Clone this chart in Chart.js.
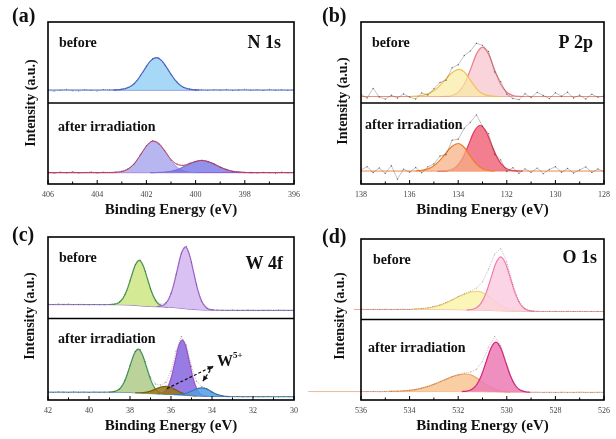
<!DOCTYPE html>
<html><head><meta charset="utf-8">
<script src="https://cdn.jsdelivr.net/npm/chart.js@4.4.0/dist/chart.umd.min.js"></script>
<style>
html,body{margin:0;padding:0;background:#fff;width:616px;height:439px;overflow:hidden;position:relative;}
canvas{position:absolute;}
</style></head><body>
<canvas id="ca" width="308" height="219" style="left:0;top:0;width:308px;height:219px"></canvas>
<canvas id="cb" width="308" height="219" style="left:308px;top:0;width:308px;height:219px"></canvas>
<canvas id="cc" width="308" height="220" style="left:0;top:219px;width:308px;height:220px"></canvas>
<canvas id="cd" width="308" height="220" style="left:308px;top:219px;width:308px;height:220px"></canvas>
<script>
// ---------------- tick labels ----------------
const N1S_TICKS = [406,404,402,400,398,396];
const P2P_TICKS = [138,136,134,132,130,128];
const W4F_TICKS = [42,40,38,36,34,32,30];
const O1S_TICKS = [536,534,532,530,528,526];

// ---------------- N 1s ----------------
const N1S_GRID = [406,405.75,405.5,405.25,405,404.75,404.5,404.25,404,403.75,403.5,403.25,403,402.75,402.5,402.25,402,401.75,401.5,401.25,401,400.75,400.5,400.25,400,399.75,399.5,399.25,399,398.75,398.5,398.25,398,397.75,397.5,397.25,397,396.75,396.5,396.25,396];
const N1S_BEFORE_RAW = [15.2,14.6,15.8,16.9,15.1,14.8,16.3,15.5,14.9,16.6,16.4,16.0,17.3,19.5,23.4,33.9,45.6,54.8,55.9,46.6,35.0,25.9,19.1,17.4,15.8,16.3,15.6,16.5,15.9,16.8,15.4,16.2,17.1,15.7,16.4,15.5,16.9,15.8,16.3,15.6,16.2];
const N1S_BEFORE_BASE_X = [406,396];
const N1S_BEFORE_BASE = [16,16];
const N1S_BEFORE_PK_X = [403.35,403.1,402.85,402.6,402.35,402.1,401.85,401.6,401.35,401.1,400.85,400.6,400.35,400.1,399.85];
const N1S_BEFORE_PK = [16,16.4,17.8,21.4,29,40.3,51.3,56,51.3,40.3,29,21.4,17.8,16.4,16];
const N1S_AFTER_RAW = [14.6,13.2,14.9,13.8,15.3,13.6,14.2,15.0,13.5,14.8,14.3,15.1,15.9,18.9,24.2,36.1,47.5,53.6,49.4,41.5,29.6,24.9,22.6,25.9,27.4,29.6,27.3,25.1,20.4,18.2,15.3,14.9,13.8,14.6,13.7,14.5,14.0,13.4,14.7,13.9,14.3];
const N1S_AFTER_FIT = [14,14,14,14,14,14,14,14,14,14,14.1,14.3,15.3,18.3,24.8,35.3,46.6,52.8,50.2,40.7,30.3,24.1,23.1,25.2,27.9,29,27.8,24.6,20.9,17.7,15.7,14.7,14.2,14,14,14,14,14,14,14,14];
const N1S_AFTER_BASE_X = [406,396];
const N1S_AFTER_BASE = [14,14];
const N1S_AFTER_PK1_X = [403.45,403.2,402.95,402.7,402.45,402.2,401.95,401.7,401.45,401.2,400.95,400.7,400.45,400.2,399.95];
const N1S_AFTER_PK1 = [14.1,14.4,15.7,19.3,26.7,37.7,48.4,53,48.4,37.7,26.7,19.3,15.7,14.4,14.1];
const N1S_AFTER_PK2_X = [401.85,401.55,401.25,400.95,400.65,400.35,400.05,399.75,399.45,399.15,398.85,398.55,398.25,397.95,397.65];
const N1S_AFTER_PK2 = [14.0,14.2,14.7,16.0,18.9,23.1,27.2,29,27.2,23.1,18.9,16.0,14.7,14.2,14.0];

// ---------------- P 2p ----------------
const P2P_GRID = [138,137.75,137.5,137.25,137,136.75,136.5,136.25,136,135.75,135.5,135.25,135,134.75,134.5,134.25,134,133.75,133.5,133.25,133,132.75,132.5,132.25,132,131.75,131.5,131.25,131,130.75,130.5,130.25,130,129.75,129.5,129.25,129,128.75,128.5,128.25,128];
const P2P_BEFORE_RAW = [10.5,6.2,18,7.5,4.8,9.6,6.1,11.2,7.3,4.9,12.4,9.8,17.6,25.3,28.1,43.5,47.2,58.6,64.1,73.8,71.2,63.5,38.2,26.4,10.9,5.6,4.2,11.4,6.8,13.1,9.2,5.5,12.6,8.4,13.3,6.1,9.7,4.9,10.8,7.2,8.6];
const P2P_BEFORE_BASE_X = [138,128];
const P2P_BEFORE_BASE = [8,8];
const P2P_BEFORE_PK1_X = [134.75,134.5,134.25,134.0,133.75,133.5,133.25,133.0,132.75,132.5,132.25,132.0,131.75,131.5,131.25];
const P2P_BEFORE_PK1 = [8,8.2,9.3,13.2,23.2,40.9,60.3,69,60.3,40.9,23.2,13.2,9.3,8.2,8];
const P2P_BEFORE_PK2_X = [135.95,135.7,135.45,135.2,134.95,134.7,134.45,134.2,133.95,133.7,133.45,133.2,132.95,132.7,132.45,132.2];
const P2P_BEFORE_PK2 = [8.1,8.5,9.5,11.9,16.3,23.3,31.7,38.7,41.5,36.7,26.1,16.3,10.8,8.7,8.1,8];
const P2P_AFTER_RAW = [17.5,21.4,14.2,19.8,13.1,22.6,6,18.4,14.6,20.3,13.9,21.2,24.8,34.5,36.2,54.1,55.3,68.9,76.1,85.4,71.3,62.2,36.4,29.8,15.5,20.1,13.2,18.7,14.4,19.6,12.8,17.9,21.3,14.5,19.2,13.6,17.4,21.1,14.3,18.5,15.2];
const P2P_AFTER_BASE_X = [138,128];
const P2P_AFTER_BASE = [16,16];
const P2P_AFTER_PK1_X = [134.85,134.6,134.35,134.1,133.85,133.6,133.35,133.1,132.85,132.6,132.35,132.1,131.85,131.6,131.35];
const P2P_AFTER_PK1 = [16,16.2,17.2,20.8,30.1,46.5,64.4,72.5,64.4,46.5,30.1,20.8,17.2,16.2,16];
const P2P_AFTER_PK2_X = [135.75,135.5,135.25,135.0,134.75,134.5,134.25,134.0,133.75,133.5,133.25,133.0,132.75,132.5];
const P2P_AFTER_PK2 = [16.2,16.8,18.6,22.5,29.4,38.5,46.7,50,45.1,34.3,24.5,18.9,16.7,16.1];

// ---------------- W 4f ----------------
const W4F_GRID = [42,41.75,41.5,41.25,41,40.75,40.5,40.25,40,39.75,39.5,39.25,39,38.75,38.5,38.25,38,37.75,37.5,37.25,37,36.75,36.5,36.25,36,35.75,35.5,35.25,35,34.75,34.5,34.25,34,33.75,33.5,33.25,33,32.75,32.5,32.25,32,31.75,31.5,31.25,31,30.75,30.5,30.25,30];
const W4F_BEFORE_RAW = [17.6,17.2,17.9,17.4,17.8,17.1,17.5,17.3,16.8,17.2,17.0,16.9,17.3,17.8,20.6,29.5,46.8,66.0,71.8,57.6,36.9,22.5,17.4,19.3,30.8,54.2,80.3,88.6,69.1,41.0,21.3,12.9,10.8,10.3,10.2,9.8,10.4,10.1,9.9,10.3,10.0,9.7,10.2,10.1,9.8,10.3,10.0,9.9,10.2];
const W4F_BEFORE_BASE_X = [42,39,38.5,38,37.5,37,36.5,36,35.5,35,34.5,34,33,30];
const W4F_BEFORE_BASE = [17,17,16.9,16.5,15.5,14.7,14.3,13.8,12.5,11.2,10.5,10.2,10,10];
const W4F_BEFORE_PK1_X = [38.95,38.75,38.55,38.35,38.15,37.95,37.75,37.55,37.35,37.15,36.95,36.75,36.55,36.35,36.15];
const W4F_BEFORE_PK1 = [17.1,17.6,19.3,24.3,34.7,50.1,65.1,71.4,64.5,48.8,32.8,22,16.7,14.7,14];
const W4F_BEFORE_PK2_X = [36.7,36.5,36.3,36.1,35.9,35.7,35.5,35.3,35.1,34.9,34.7,34.5,34.3,34.1,33.9];
const W4F_BEFORE_PK2 = [14.7,15.1,17.4,24.2,38.1,59,79.4,87.8,78.4,57.1,35.4,20.8,13.7,11.1,10.4];
const W4F_AFTER_RAW = [9.9,9.4,10.1,9.7,9.3,10.0,9.6,9.8,9.2,9.9,9.5,9.7,9.9,10.6,13.5,24.2,42.4,59.6,61.9,46.9,28.1,19.5,18.3,21.5,35.6,60.2,77.8,67.5,41.3,22.8,16.4,13.9,9.6,6.9,5.3,4.5,4.2,4.3,3.8,4.1,4.2,3.9,4.0,4.3,3.7,4.1,4.2,3.9,4.0];
const W4F_AFTER_BASE_X = [42,39,38.5,38,37.5,37,36.5,36,35.5,35,34.5,34,33,30];
const W4F_AFTER_BASE = [9.6,9.6,9.5,9.2,8.5,7.8,7.3,6.8,6.0,5.2,4.6,4.3,4.1,4];
const W4F_AFTER_PK1_X = [39.0,38.8,38.6,38.4,38.2,38.0,37.8,37.6,37.4,37.2,37.0,36.8,36.6,36.4,36.2];
const W4F_AFTER_PK1 = [9.7,10.2,11.9,16.7,26.8,41.9,56.5,62.5,55.8,40.6,25.3,14.9,9.8,7.8,7.1];
const W4F_AFTER_PK2_X = [36.675,36.5,36.325,36.15,35.975,35.8,35.625,35.45,35.275,35.1,34.925,34.75,34.575,34.4,34.225];
const W4F_AFTER_PK2 = [7.7,8.1,10.1,16.2,28.8,47.7,66.1,73.7,65.4,46.4,27.1,14.1,7.6,5.3,4.6];
const W4F_AFTER_PK3_X = [37.75,37.5,37.25,37.0,36.75,36.5,36.25,36.0,35.75,35.5,35.25,35.0,34.75];
const W4F_AFTER_PK3 = [8.9,8.9,9.4,10.9,13.4,15.8,16.7,15.3,12.2,9.1,6.9,5.6,5.0];
const W4F_AFTER_PK4_X = [35.85,35.625,35.4,35.175,34.95,34.725,34.5,34.275,34.05,33.825,33.6,33.375,33.15];
const W4F_AFTER_PK4 = [6.7,6.8,7.2,8.9,11.4,14.0,15.0,13.6,10.6,7.6,5.6,4.6,4.2];
const W5_ARROWS = [[36.2,14,33.95,41.5],[33.95,41.5,34.45,23]];

// ---------------- O 1s ----------------
const O1S_GRID = [536,535.75,535.5,535.25,535,534.75,534.5,534.25,534,533.75,533.5,533.25,533,532.75,532.5,532.25,532,531.75,531.5,531.25,531,530.75,530.5,530.25,530,529.75,529.5,529.25,529,528.75,528.5,528.25,528,527.75,527.5,527.25,527,526.75,526.5,526.25,526];
const O1S_BEFORE_RAW = [12.9,12.2,12.7,12.4,12.8,12.3,12.6,12.8,12.5,13.1,13.6,14.5,16.1,18.0,21.2,24.6,28.5,31.9,35.2,38.9,46.8,62.5,81.2,88.3,71.6,43.5,22.6,13.4,10.7,10.3,9.8,10.2,10.1,9.7,10.3,9.9,10.2,9.8,10.1,10.0,9.9];
const O1S_BEFORE_BASE_X = [536.3,533,532,531.5,531,530.5,530,529.5,529,526];
const O1S_BEFORE_BASE = [12.5,12.5,12.2,11.8,11.5,11.0,10.5,10.2,10,10];
const O1S_BEFORE_PK1_X = [531.65,531.45,531.25,531.05,530.85,530.65,530.45,530.25,530.05,529.85,529.65,529.45,529.25,529.05,528.85];
const O1S_BEFORE_PK1 = [12.0,12.4,14.5,20.6,33.1,51.7,70.0,77.8,69.7,51.0,32.1,19.3,13.0,10.7,10.2];
const O1S_BEFORE_PK2_X = [533.9,533.6,533.3,533.0,532.7,532.4,532.1,531.8,531.5,531.2,530.9,530.6,530.3,530.0,529.7,529.4];
const O1S_BEFORE_PK2 = [12.8,13.2,14.0,15.7,18.2,21.9,26.4,30.7,33.9,35.0,32.0,25.3,18.4,13.7,11.3,10.5];
const O1S_AFTER_RAW = [10.8,10.3,10.6,10.2,10.7,10.9,11.2,11.4,12.1,13.2,14.8,17.0,19.8,22.9,26.1,29.3,31.6,33.4,34.8,37.9,48.1,65.8,79.2,68.1,44.6,23.9,13.1,10.4,9.7,9.8,9.4,9.6,9.3,9.7,9.5,9.4,9.8,9.5,9.3,9.6,9.5];
const O1S_AFTER_BASE_X = [538.5,533,532,531,530,529,526];
const O1S_AFTER_BASE = [10.5,10.5,10.4,10.1,9.7,9.5,9.5];
const O1S_AFTER_PK1_X = [531.85,531.65,531.45,531.25,531.05,530.85,530.65,530.45,530.25,530.05,529.85,529.65,529.45,529.25,529.05];
const O1S_AFTER_PK1 = [10.5,11.0,12.9,18.6,30.2,47.6,64.6,71.9,64.5,47.3,29.8,18.0,12.3,10.2,9.6];
const O1S_AFTER_PK2_X = [534.85,534.45,534.05,533.65,533.25,532.85,532.45,532.05,531.65,531.35,531.05,530.75,530.45,530.15,529.85];
const O1S_AFTER_PK2 = [10.6,10.9,11.7,13.5,16.6,21.2,26.4,30.6,32.3,29.6,23.4,17.1,12.9,10.8,9.9];

// ---------------- building ----------------
const SERIF = "'Liberation Serif', 'DejaVu Serif', serif";
Chart.defaults.font.family = SERIF;

function pts(xs, ys, off) { return xs.map((x, i) => ({x: x, y: ys[i] + off})); }

function buildDatasets(spec) {
  const ds = [];
  [['top', 100], ['bottom', 0]].forEach(([key, off]) => {
    const s = spec[key];
    const baseIdx = ds.length;
    const b = {data: pts(s.base[0], s.base[1], off), borderColor: s.base[2], borderWidth: 1, pointRadius: 0, fill: false, order: 30};
    if (s.baseClip) b.clip = {left: false, top: 0, right: 0, bottom: 0};
    ds.push(b);
    s.peaks.forEach((p, k) => {
      const idx = ds.length;
      ds.push({data: pts(p[0], p[1], off), borderColor: p[3], backgroundColor: p[2], borderWidth: 1.2,
        pointRadius: 0, fill: '-' + (idx - baseIdx), cubicInterpolationMode: 'monotone', order: 20 - k});
    });
    if (s.fit) ds.push({data: pts(s.fit[0], s.fit[1], off), borderColor: s.fit[2], borderWidth: 1, pointRadius: 0,
      fill: false, cubicInterpolationMode: 'monotone', order: 5});
    ds.push({data: pts(s.raw[0], s.raw[1], off), borderColor: spec.rawColor, borderWidth: spec.rawW,
      borderDash: spec.rawDash, pointRadius: spec.rawPt, pointBackgroundColor: 'rgba(60,60,60,0.7)',
      pointBorderWidth: 0, fill: false, order: 1});
  });
  return ds;
}

function makeDeco(spec) {
  return {
    id: 'deco_' + spec.name,
    afterDatasetsDraw(chart) {
      const ctx = chart.ctx, a = chart.chartArea, xs = chart.scales.x, ys = chart.scales.y;
      ctx.save();
      (spec.arrows || []).forEach(r => {
        const x1 = xs.getPixelForValue(r[0]), y1 = ys.getPixelForValue(r[1]);
        const x2 = xs.getPixelForValue(r[2]), y2 = ys.getPixelForValue(r[3]);
        ctx.strokeStyle = '#111'; ctx.fillStyle = '#111'; ctx.lineWidth = 1.2;
        ctx.setLineDash([3, 2]);
        ctx.beginPath(); ctx.moveTo(x1, y1); ctx.lineTo(x2, y2); ctx.stroke();
        ctx.setLineDash([]);
        const ang = Math.atan2(y2 - y1, x2 - x1), L = 6;
        ctx.beginPath(); ctx.moveTo(x2, y2);
        ctx.lineTo(x2 - L * Math.cos(ang - 0.45), y2 - L * Math.sin(ang - 0.45));
        ctx.lineTo(x2 - L * Math.cos(ang + 0.45), y2 - L * Math.sin(ang + 0.45));
        ctx.closePath(); ctx.fill();
      });
      ctx.strokeStyle = '#000';
      ctx.lineWidth = 1.6;
      ctx.strokeRect(a.left, a.top, a.right - a.left, a.bottom - a.top);
      const yd = ys.getPixelForValue(100);
      ctx.lineWidth = 1.5;
      ctx.beginPath(); ctx.moveTo(a.left, yd); ctx.lineTo(a.right, yd); ctx.stroke();
      ctx.lineWidth = 1;
      const t = spec.ticks;
      ctx.beginPath();
      t.forEach((v, i) => {
        const px = xs.getPixelForValue(v);
        ctx.moveTo(px, a.bottom); ctx.lineTo(px, a.bottom - 4);
        if (i < t.length - 1) {
          const pm = xs.getPixelForValue((v + t[i + 1]) / 2);
          ctx.moveTo(pm, a.bottom); ctx.lineTo(pm, a.bottom - 2.5);
        }
      });
      ctx.stroke();
      ctx.fillStyle = '#111';
      spec.texts.forEach(tx => {
        ctx.save();
        ctx.font = 'bold ' + tx.s + 'px ' + SERIF;
        ctx.textAlign = tx.al || 'left';
        ctx.textBaseline = 'middle';
        ctx.translate(tx.x, tx.y);
        if (tx.rot) ctx.rotate(-Math.PI / 2);
        ctx.fillText(tx.t, 0, 0);
        ctx.restore();
      });
      ctx.restore();
    }
  };
}

function makeChart(id, spec) {
  new Chart(document.getElementById(id), {
    type: 'line',
    data: {datasets: buildDatasets(spec)},
    plugins: [makeDeco(spec)],
    options: {
      responsive: false, animation: false, devicePixelRatio: 1,
      layout: {padding: spec.pad},
      plugins: {legend: {display: false}, tooltip: {enabled: false}},
      scales: {
        x: {
          type: 'linear', reverse: true,
          min: Math.min(...spec.ticks), max: Math.max(...spec.ticks),
          afterBuildTicks: s => { s.ticks = spec.ticks.map(v => ({value: v})); },
          afterFit: s => { s.height = spec.axisH; },
          grid: {display: false, drawTicks: false}, border: {display: false},
          ticks: {font: {family: SERIF, size: 8}, color: '#444', padding: 6, maxRotation: 0, autoSkip: false},
          title: {display: true, text: 'Binding Energy (eV)', color: '#111',
                  font: {family: SERIF, size: 15, weight: 'bold'}, padding: {top: 0, bottom: spec.titlePad}}
        },
        y: {display: false, min: 0, max: 200}
      }
    }
  });
}

const dotted = {rawColor: 'rgba(90,90,90,0.6)', rawW: 0.7, rawDash: [1, 1.3], rawPt: 0.5};

makeChart('ca', Object.assign({
  name: 'a', ticks: N1S_TICKS, pad: {left: 48, right: 14, top: 22, bottom: 0}, axisH: 35, titlePad: 0,
  top: {raw: [N1S_GRID, N1S_BEFORE_RAW], base: [N1S_BEFORE_BASE_X, N1S_BEFORE_BASE, '#4a6ad6'],
        peaks: [[N1S_BEFORE_PK_X, N1S_BEFORE_PK, 'rgba(160,214,246,0.92)', '#4a6ad6']]},
  bottom: {raw: [N1S_GRID, N1S_AFTER_RAW], base: [N1S_AFTER_BASE_X, N1S_AFTER_BASE, '#b048c8'],
        peaks: [[N1S_AFTER_PK1_X, N1S_AFTER_PK1, 'rgba(178,176,240,0.92)', '#a8a8ee'],
                [N1S_AFTER_PK2_X, N1S_AFTER_PK2, 'rgba(100,100,225,0.7)', '#8070d8']],
        fit: [N1S_GRID, N1S_AFTER_FIT, '#d8385c']},
  texts: [
    {t: '(a)', x: 12, y: 17, s: 20},
    {t: 'before', x: 59, y: 43, s: 14},
    {t: 'after irradiation', x: 58, y: 127, s: 14},
    {t: 'N 1s', x: 281, y: 43, s: 18, al: 'right'},
    {t: 'Intensity (a.u.)', x: 31, y: 103, s: 14, al: 'center', rot: true}
  ]
}, dotted));

makeChart('cb', {
  name: 'b', ticks: P2P_TICKS, pad: {left: 53, right: 10, top: 22, bottom: 0}, axisH: 35, titlePad: 0,
  rawColor: 'rgba(70,70,70,0.55)', rawW: 0.6, rawDash: [], rawPt: 0.7,
  top: {raw: [P2P_GRID, P2P_BEFORE_RAW], base: [P2P_BEFORE_BASE_X, P2P_BEFORE_BASE, '#ef8c7c'],
        peaks: [[P2P_BEFORE_PK1_X, P2P_BEFORE_PK1, 'rgba(248,208,216,0.92)', '#e87c84'],
                [P2P_BEFORE_PK2_X, P2P_BEFORE_PK2, 'rgba(250,236,165,0.72)', '#f2c24e']]},
  bottom: {raw: [P2P_GRID, P2P_AFTER_RAW], base: [P2P_AFTER_BASE_X, P2P_AFTER_BASE, '#f08a50'],
        peaks: [[P2P_AFTER_PK1_X, P2P_AFTER_PK1, 'rgba(242,112,132,0.9)', '#e23c5a'],
                [P2P_AFTER_PK2_X, P2P_AFTER_PK2, 'rgba(246,176,130,0.72)', '#f07c22']]},
  texts: [
    {t: '(b)', x: 14, y: 17, s: 20},
    {t: 'before', x: 64, y: 43, s: 14},
    {t: 'after irradiation', x: 57, y: 125, s: 14},
    {t: 'P 2p', x: 285, y: 43, s: 18, al: 'right'},
    {t: 'Intensity (a.u.)', x: 35, y: 101, s: 14, al: 'center', rot: true}
  ]
});

makeChart('cc', Object.assign({
  name: 'c', ticks: W4F_TICKS, pad: {left: 48, right: 14, top: 18, bottom: 0}, axisH: 39, titlePad: 4,
  top: {raw: [W4F_GRID, W4F_BEFORE_RAW], base: [W4F_BEFORE_BASE_X, W4F_BEFORE_BASE, '#8c6cc8'],
        peaks: [[W4F_BEFORE_PK1_X, W4F_BEFORE_PK1, 'rgba(208,232,140,0.92)', '#4b9a55'],
                [W4F_BEFORE_PK2_X, W4F_BEFORE_PK2, 'rgba(214,188,242,0.92)', '#a766d6']]},
  bottom: {raw: [W4F_GRID, W4F_AFTER_RAW], base: [W4F_AFTER_BASE_X, W4F_AFTER_BASE, '#3f83a8'],
        peaks: [[W4F_AFTER_PK1_X, W4F_AFTER_PK1, 'rgba(184,208,150,0.95)', '#3f9a5c'],
                [W4F_AFTER_PK2_X, W4F_AFTER_PK2, 'rgba(146,116,226,0.95)', '#9c52c8'],
                [W4F_AFTER_PK3_X, W4F_AFTER_PK3, 'rgba(150,118,20,0.85)', '#7a5e08'],
                [W4F_AFTER_PK4_X, W4F_AFTER_PK4, 'rgba(84,156,226,0.85)', '#3777c0']]},
  arrows: W5_ARROWS,
  texts: [
    {t: '(c)', x: 12, y: 17, s: 20},
    {t: 'before', x: 59, y: 39, s: 14},
    {t: 'after irradiation', x: 58, y: 120, s: 14},
    {t: 'W 4f', x: 283, y: 45, s: 18, al: 'right'},
    {t: 'W', x: 217, y: 143, s: 16},
    {t: '5+', x: 233, y: 137, s: 9},
    {t: 'Intensity (a.u.)', x: 30, y: 97, s: 14, al: 'center', rot: true}
  ]
}, dotted));

makeChart('cd', Object.assign({
  name: 'd', ticks: O1S_TICKS, pad: {left: 53, right: 10, top: 20, bottom: 0}, axisH: 39, titlePad: 4,
  top: {raw: [O1S_GRID, O1S_BEFORE_RAW], base: [O1S_BEFORE_BASE_X, O1S_BEFORE_BASE, '#f2a8a0'], baseClip: true,
        peaks: [[O1S_BEFORE_PK2_X, O1S_BEFORE_PK2, 'rgba(250,244,170,0.85)', '#f3d47a'],
                [O1S_BEFORE_PK1_X, O1S_BEFORE_PK1, 'rgba(250,206,226,0.85)', '#f27aae']]},
  bottom: {raw: [O1S_GRID, O1S_AFTER_RAW], base: [O1S_AFTER_BASE_X, O1S_AFTER_BASE, 'rgba(240,180,140,0.9)'], baseClip: true,
        peaks: [[O1S_AFTER_PK2_X, O1S_AFTER_PK2, 'rgba(248,198,146,0.85)', '#f2a45e'],
                [O1S_AFTER_PK1_X, O1S_AFTER_PK1, 'rgba(236,128,182,0.88)', '#d6207c']]},
  texts: [
    {t: '(d)', x: 14, y: 19, s: 20},
    {t: 'before', x: 65, y: 41, s: 14},
    {t: 'after irradiation', x: 60, y: 129, s: 14},
    {t: 'O 1s', x: 289, y: 39, s: 18, al: 'right'},
    {t: 'Intensity (a.u.)', x: 32, y: 97, s: 14, al: 'center', rot: true}
  ]
}, {rawColor: 'rgba(140,100,110,0.7)', rawW: 0.7, rawDash: [1, 1.3], rawPt: 0.4}));
</script>
</body></html>
